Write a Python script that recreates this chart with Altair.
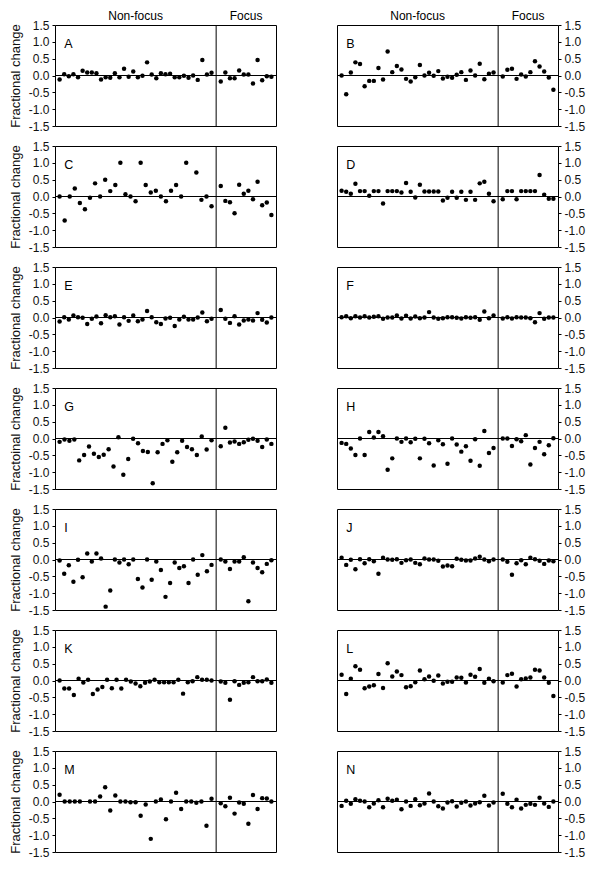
import altair as alt
import pandas as pd

# ---------------- data ----------------
A_non = [-0.12, 0.04, -0.02, 0.04, -0.05, 0.14, 0.09, 0.09, 0.07, -0.12, -0.05, -0.07, 0.07, -0.05, 0.20, -0.04, 0.12,
         -0.05, -0.01, 0.39, 0.03, -0.08, 0.07, 0.04, 0.05, -0.05, -0.05, -0.01, -0.07, 0.0, -0.13, 0.46, 0.03, 0.08]
A_foc = [-0.18, 0.09, -0.08, -0.08, 0.15, 0.03, 0.03, -0.24, 0.46, -0.14, -0.02, -0.04]

B_non = [0.0, -0.56, 0.09, 0.39, 0.34, -0.32, -0.16, -0.16, 0.22, -0.12, 0.71, 0.10, 0.28, 0.18, -0.10, -0.18, -0.05,
         0.31, 0.0, 0.08, -0.01, 0.13, -0.09, -0.04, -0.07, 0.02, 0.10, -0.13, 0.15, 0.0, 0.35, -0.11, 0.05, 0.09]
B_foc = [-0.03, 0.17, 0.20, -0.10, 0.03, -0.03, 0.10, 0.42, 0.27, 0.12, -0.06, -0.42]

C_non = [0.0, -0.71, 0.0, 0.24, -0.19, -0.38, -0.04, 0.39, 0.0, 0.50, 0.16, 0.34, 1.0, 0.07, 0.0, -0.14, 1.0, 0.34,
         0.12, 0.17, 0.0, -0.14, 0.17, 0.34, 0.0, 1.0, None, 0.71, -0.10, 0.0, -0.29]
C_foc = [0.31, -0.13, -0.17, -0.50, 0.35, 0.08, 0.17, -0.08, 0.44, -0.26, -0.18, -0.55]

D_non = [0.17, 0.14, 0.08, 0.38, 0.16, 0.16, 0.02, 0.16, 0.16, -0.21, 0.16, 0.16, 0.16, 0.12, 0.40, 0.14, -0.03,
         0.35, 0.15, 0.15, 0.15, 0.15, -0.12, -0.04, 0.14, -0.04, 0.14, -0.10, 0.14, -0.10, 0.39, 0.44, 0.08, -0.14]
D_foc = [-0.08, 0.16, 0.16, -0.08, 0.16, 0.16, 0.16, 0.16, 0.64, 0.05, -0.07, -0.07]

E_non = [-0.12, 0.01, -0.06, 0.06, 0.01, -0.01, -0.19, -0.04, 0.03, -0.17, 0.07, 0.01, 0.04, -0.21, 0.01, -0.10,
         0.06, -0.11, -0.06, 0.19, 0.01, -0.14, -0.19, -0.03, -0.01, -0.25, -0.06, 0.02, -0.06, -0.06, 0.0, 0.15,
         -0.11, -0.04]
E_foc = [0.22, -0.04, -0.16, 0.04, -0.21, -0.09, -0.06, -0.09, 0.13, -0.07, -0.15, 0.0]

F_non = [0.01, 0.04, -0.02, 0.04, 0.0, 0.04, 0.0, 0.02, 0.04, -0.04, 0.0, 0.0, 0.06, -0.03, 0.05, -0.03, 0.03, -0.02,
         0.0, 0.16, 0.0, -0.04, -0.02, 0.01, 0.01, -0.01, -0.03, 0.01, -0.01, 0.01, -0.07, 0.18, -0.02, 0.06]
F_foc = [-0.03, 0.01, -0.03, 0.01, 0.0, 0.0, -0.02, -0.14, 0.13, -0.04, 0.0, 0.0]

G_non = [-0.10, -0.03, -0.07, -0.03, -0.65, -0.49, -0.24, -0.45, -0.55, -0.48, -0.32, -0.83, 0.04, -1.08, -0.61,
         -0.01, -0.14, -0.37, -0.40, -1.33, -0.41, -0.16, -0.05, -0.69, -0.41, -0.07, -0.25, -0.32, -0.49, 0.06,
         -0.33, -0.05]
G_foc = [-0.23, 0.32, -0.12, -0.09, -0.16, -0.11, -0.04, -0.01, -0.07, -0.25, -0.03, -0.16]

H_non = [-0.13, -0.16, -0.30, -0.49, 0.0, -0.49, 0.19, 0.03, 0.19, 0.07, -0.93, -0.59, 0.0, -0.10, 0.0, -0.11, -0.01,
         -0.59, -0.01, -0.14, -0.80, -0.05, -0.17, -0.75, 0.0, -0.18, -0.39, -0.23, -0.66, -0.02, -0.81, 0.22, -0.43,
         -0.28]
H_foc = [0.0, 0.0, -0.22, -0.02, -0.08, 0.10, -0.77, -0.28, -0.10, -0.47, -0.20, 0.01]

I_non = [-0.03, -0.42, -0.17, -0.66, -0.01, -0.53, 0.18, -0.06, 0.18, 0.03, -1.40, -0.92, 0.0, -0.09, 0.0, -0.14,
         0.0, -0.58, -0.83, 0.0, -0.60, -0.06, -0.31, -1.11, -0.70, -0.09, -0.25, -0.20, -0.70, 0.0, -0.45, 0.13,
         -0.35, -0.16]
I_foc = [0.0, -0.06, -0.28, -0.06, -0.06, 0.07, -1.24, -0.09, -0.25, -0.38, -0.13, -0.02]

J_non = [0.05, -0.16, -0.01, -0.29, 0.01, -0.11, 0.01, -0.05, -0.42, 0.05, 0.0, -0.01, 0.01, -0.10, -0.02, 0.0,
         -0.10, -0.14, 0.03, 0.0, 0.0, -0.04, -0.21, -0.18, -0.20, 0.02, -0.01, -0.03, -0.03, 0.03, 0.08, 0.0, -0.05,
         0.0]
J_foc = [0.0, -0.07, -0.45, -0.11, -0.02, -0.14, 0.05, 0.01, -0.04, -0.13, -0.03, -0.05]

K_non = [0.0, -0.24, -0.24, -0.43, 0.05, -0.06, 0.02, -0.40, -0.27, -0.19, 0.02, -0.23, 0.02, -0.24, 0.02, -0.03,
         -0.09, -0.17, -0.07, -0.03, 0.02, -0.05, -0.05, -0.05, -0.05, 0.02, -0.39, -0.05, -0.02, 0.10, 0.02, 0.02,
         0.0]
K_foc = [-0.03, -0.07, -0.57, -0.02, -0.13, -0.07, -0.05, 0.10, -0.02, -0.02, 0.03, -0.07]

L_non = [0.17, -0.40, 0.05, 0.42, 0.32, -0.23, -0.18, -0.14, 0.19, -0.22, 0.51, 0.12, 0.27, 0.16, -0.20, -0.17,
         -0.05, 0.30, 0.04, 0.12, -0.01, 0.15, -0.09, -0.04, -0.04, 0.09, 0.08, -0.06, 0.17, 0.11, 0.34, -0.07, 0.05,
         -0.02]
L_foc = [-0.06, 0.16, 0.20, -0.18, 0.04, 0.06, 0.09, 0.32, 0.30, 0.09, -0.07, -0.46]

M_non = [0.20, 0.0, 0.0, 0.0, 0.0, None, 0.0, 0.0, 0.15, 0.42, -0.27, 0.18, 0.0, 0.0, -0.02, -0.02, -0.42, -0.09,
         -1.11, 0.0, 0.06, -0.53, 0.0, 0.26, -0.22, 0.0, 0.0, -0.04, 0.0, -0.72, 0.08]
M_foc = [-0.05, -0.14, 0.11, -0.36, -0.03, -0.07, -0.66, 0.19, -0.22, 0.10, 0.09, 0.0]

N_non = [-0.13, 0.02, -0.07, 0.07, 0.02, 0.0, -0.17, -0.06, 0.04, -0.17, 0.08, 0.02, 0.05, -0.23, 0.0, -0.13, 0.07,
         -0.11, -0.06, 0.24, 0.0, -0.14, -0.21, -0.03, 0.01, -0.15, -0.04, 0.0, -0.12, -0.06, -0.02, 0.17, -0.12,
         -0.03]
N_foc = [0.23, -0.07, -0.17, 0.05, -0.21, -0.10, -0.07, -0.10, 0.11, -0.06, -0.16, 0.0]

panel_letters = ["A", "B", "C", "D", "E", "F", "G", "H", "I", "J", "K", "L", "M", "N"]
nonfocus = {"A": A_non, "B": B_non, "C": C_non, "D": D_non, "E": E_non, "F": F_non, "G": G_non,
            "H": H_non, "I": I_non, "J": J_non, "K": K_non, "L": L_non, "M": M_non, "N": N_non}
focus = {"A": A_foc, "B": B_foc, "C": C_foc, "D": D_foc, "E": E_foc, "F": F_foc, "G": G_foc,
         "H": H_foc, "I": I_foc, "J": J_foc, "K": K_foc, "L": L_foc, "M": M_foc, "N": N_foc}
y_titles = {"A": "Fractional change", "C": "Fractional change", "E": "Fractional change",
            "G": "Fractoinal change", "I": "Fractional change", "K": "Fractional change",
            "M": "Fractional change"}
section_labels = ["Non-focus", "Focus"]
y_ticks = [-1.5, -1.0, -0.5, 0.0, 0.5, 1.0, 1.5]

# slot layout on the x scale
X_MAX = 48
NF_FIRST, NF_LAST = 1, 34
DIVIDER = 35
F_FIRST = 36

FONT = "Liberation Sans"
W, H = 221, 101


def panel_frame(letter):
    rows = []
    nf = nonfocus[letter]
    n = len(nf)
    for k, v in enumerate(nf):
        if v is None:
            continue
        rows.append({"x": NF_FIRST + k * (NF_LAST - NF_FIRST) / (n - 1), "y": v})
    for k, v in enumerate(focus[letter]):
        rows.append({"x": F_FIRST + k, "y": v})
    return pd.DataFrame(rows)


xscale = alt.Scale(domain=[0, X_MAX], nice=False, zero=False)
yscale = alt.Scale(domain=[-1.5, 1.5], nice=False, zero=False)
label_expr = "datum.value < 0 ? '-' + format(-datum.value, '.1f') : format(datum.value, '.1f')"


def make_panel(letter, side, top):
    if side == "left":
        yaxis = alt.Axis(orient="left", values=y_ticks, labelExpr=label_expr, title=y_titles[letter])
    else:
        yaxis = alt.Axis(orient="right", values=y_ticks, labelExpr=label_expr, title=None)

    ychan = alt.Y("y:Q", scale=yscale, axis=yaxis)
    xchan = alt.X("x:Q", scale=xscale, axis=None)

    pts = alt.Chart(panel_frame(letter)).mark_circle(size=20, color="black", opacity=1).encode(
        x=xchan, y=ychan
    )
    zero = alt.Chart(pd.DataFrame({"y": [0.0]})).mark_rule(color="black", strokeWidth=1).encode(y=ychan)
    div = alt.Chart(pd.DataFrame({"x": [DIVIDER]})).mark_rule(color="black", strokeWidth=1).encode(x=xchan)
    lab = alt.Chart(pd.DataFrame({"x": [2.0], "y": [0.95], "t": [letter]})).mark_text(
        align="left", baseline="middle", font=FONT, fontSize=12.5, color="black"
    ).encode(x=xchan, y=ychan, text="t:N")
    layers = [zero, div, pts, lab]
    if top:
        heads = alt.Chart(pd.DataFrame({"x": [(NF_FIRST + NF_LAST) / 2, (F_FIRST + X_MAX - 1) / 2],
                                        "t": section_labels})).mark_text(
            align="center", baseline="middle", font=FONT, fontSize=12, color="black"
        ).encode(x=xchan, y=alt.value(-9), text="t:N")
        layers.append(heads)
    return alt.layer(*layers).properties(width=W, height=H)


panels = []
for i, letter in enumerate(panel_letters):
    side = "left" if i % 2 == 0 else "right"
    panels.append(make_panel(letter, side, i < 2))

chart = alt.concat(*panels, columns=2, spacing={"row": 20, "column": 61}, bounds="flush").properties(
    padding={"left": 0, "top": 1, "right": 5, "bottom": 5}
).configure_view(
    stroke="black", strokeWidth=1
).configure_axis(
    domain=False, grid=False, ticks=True, tickColor="black", tickSize=3, tickWidth=1,
    labelFont=FONT, labelFontSize=12, labelColor="#111111", labelPadding=3,
    titleFont=FONT, titleFontSize=13, titleFontWeight="normal", titleColor="#111111", titlePadding=6
)

chart.save("out.html", embed_options={"renderer": "svg", "actions": False})
